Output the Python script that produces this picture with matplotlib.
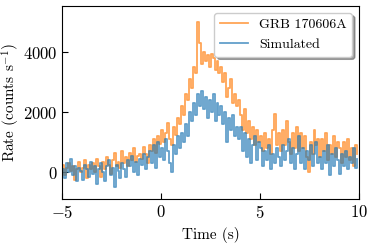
import matplotlib
matplotlib.use("Agg")
import matplotlib.pyplot as plt
import numpy as np

plt.rcParams['font.family'] = 'serif'
plt.rcParams['font.serif'] = ['cmr10', 'DejaVu Serif']
plt.rcParams['mathtext.fontset'] = 'cm'
plt.rcParams['axes.formatter.use_mathtext'] = True

# 0.1 s bins from -5 s to 10 s
t_start = -5.0
bin_width = 0.1

grb_rate = [
    250, -100, 150, 300, 50, 200, -250, 100, 350, 0,
    150, 400, -200, 250, 100, 300, 0, 450, 200, -150,
    350, 100, 500, 250, -50, 400, 650, 200, 350, 150,
    700, 300, 500, 200, 650, 400, 800, 350, 550, 600,
    450, 850, 600, 300, 900, 700, 1100, 650, 1200, 950,
    1400, 1000, 1300, 1650, 1100, 900, 1500, 1250, 1800, 1600,
    2200, 1900, 2600, 2400, 3100, 2800, 3500, 3300, 5000, 4300,
    3600, 4000, 3700, 3900, 3500, 3950, 3800, 3400, 3700, 3300,
    3500, 3000, 3300, 2500, 2800, 3100, 2300, 2600, 2200, 2400,
    1900, 1400, 2100, 1300, 1700, 1100, 1500, 900, 1400, 1000,
    1200, 700, 1300, 800, 1100, 600, 1400, 1950, 900, 1300,
    700, 1400, 900, 1700, 1000, 600, 1300, 800, 1500, 700,
    1300, 800, 1200, 500, 0, 1000, 600, 1400, 900, 1100,
    500, 1100, 700, 1300, 400, 900, 600, 1200, 500, 1000,
    800, 300, 1000, 500, 1100, 400, 800, 200, 900, 600,
]

sim_rate = [
    100, -200, 300, 0, 450, -100, 200, -300, 150, 50,
    -250, 250, 100, -150, 350, -50, 200, -400, 100, 300,
    0, -300, 200, 400, -100, 150, -500, 250, 50, -200,
    300, 100, -150, 400, 200, 550, 0, 350, -100, 450,
    250, 600, 100, 500, 700, 300, 900, 150, 1000, 500,
    800, 400, 1100, 700, 300, 0, 900, 600, 1200, 800,
    1300, 1000, 1600, 1200, 2000, 1700, 2300, 1900, 2600, 2200,
    2700, 2100, 2500, 1800, 2400, 2000, 2600, 1700, 2300, 1900,
    2200, 1600, 2000, 1000, 1800, 1400, 1900, 1200, 1500, 1100,
    1500, 700, 1300, 500, 1100, 300, 900, 1200, 400, 1000,
    800, 200, 700, 400, 900, 100, 600, 300, 800, 500,
    200, 900, 400, 700, 1100, 300, 800, 100, 600, 1200,
    300, 800, 100, 700, 400, 900, 200, 600, 1000, 300,
    500, 100, 700, 300, 900, -100, 600, 200, 800, 400,
    -50, 600, 200, 700, 100, 500, 300, 800, 150, 450,
]

t = t_start + bin_width * np.arange(len(grb_rate))

fig = plt.figure(figsize=(3.74, 2.44), dpi=100)
ax = fig.add_axes([0.166, 0.184, 0.794, 0.791])

ax.step(t, grb_rate, where='post', color='C1', alpha=0.7, lw=1.3, label='GRB 170606A')
ax.step(t, sim_rate, where='post', color='C0', alpha=0.7, lw=1.3, label='Simulated')

ax.set_xlim(-5, 10)
ax.set_ylim(-900, 5530)
ax.set_xticks([-5, 0, 5, 10])
ax.set_yticks([0, 2000, 4000])
ax.tick_params(direction='in', labelsize=12, length=4)
ax.set_xlabel('Time (s)', fontsize=11)
ax.set_ylabel(r'Rate (counts s$^{-1}$)', fontsize=11, labelpad=0.5)

ax.legend(loc='upper right', fontsize=10, fancybox=True, shadow=True, framealpha=1)

fig.savefig('out.png', dpi=100)
